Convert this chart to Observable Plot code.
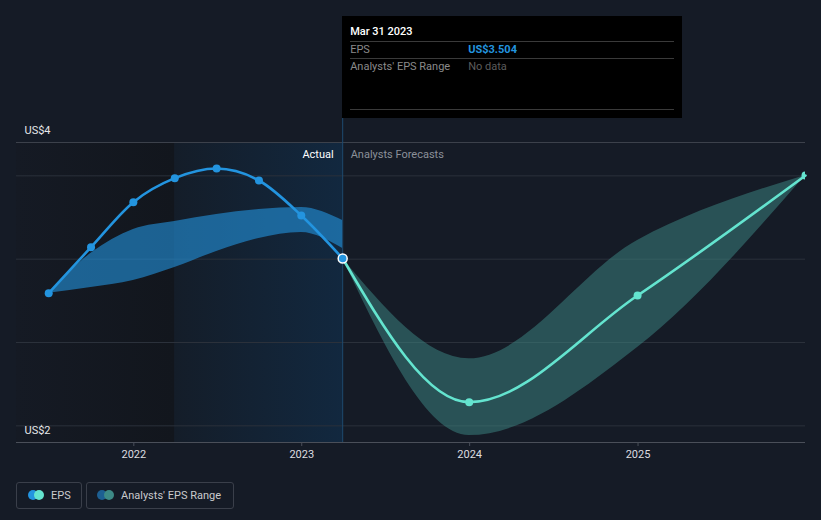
<!DOCTYPE html>
<html><head><meta charset="utf-8">
<script src="https://cdn.jsdelivr.net/npm/d3@7"></script>
<script src="https://cdn.jsdelivr.net/npm/@observablehq/plot@0.6"></script>
<style>
body{margin:0;background:#151b26;font-family:Roboto,sans-serif;}
#wrap{position:relative;width:821px;height:520px;overflow:hidden;}
#tip{position:absolute;background:#000;height:102px;width:340px;}
#tip .t{position:absolute;font-size:11px;white-space:nowrap;}
#tip .ln{position:absolute;left:8px;width:324px;height:1px;background:#3a3a3a;}
.lg{position:absolute;top:482px;height:25px;border:1px solid #3a3f4a;border-radius:3px;box-sizing:content-box;}
.lg .c{position:absolute;top:7px;width:10px;height:10px;border-radius:50%;}
.lg .tx{position:absolute;top:6px;font-size:11px;color:#c9cacd;white-space:nowrap;}
</style></head><body><div id="wrap"></div>
<script>
// ---- data ----
const actualDates = ["2021-06-30","2021-09-30","2021-12-31","2022-03-31","2022-06-30","2022-09-30","2022-12-31","2023-03-31"];
const actualEps   = [3.296, 3.572, 3.842, 3.986, 4.044, 3.972, 3.762, 3.504];
const pastLow     = [3.296, 3.330, 3.372, 3.450, 3.546, 3.624, 3.660, 3.564];
const pastHigh    = [3.296, 3.535, 3.678, 3.726, 3.768, 3.798, 3.810, 3.732];
const forecastDates = ["2023-03-31","2023-12-31","2024-12-31","2025-12-31"];
const forecastEps   = [3.504, 2.642, 3.282, 4.002];
const forecastLow   = [3.504, 2.442, 2.970, 4.002];
const forecastHigh  = [3.504, 2.902, 3.612, 4.002];
const gridValues = [4.0, 3.5, 3.0, 2.5];
const yDomain = [2.4, 4.2];
const yLabels = ["US$2", "US$4"];
const xTickYears = ["2022-01-01","2023-01-01","2024-01-01","2025-01-01"];
const xDomain = ["2021-04-21","2025-12-31"];
const pastYearStart = "2022-03-31";
const todayDate = "2023-03-31";
const tipTitle = "Mar 31 2023";

// ---- build tables ----
const D = s => new Date(s);
const actual = actualDates.map((d,i)=>({date:D(d), eps:actualEps[i], low:pastLow[i], high:pastHigh[i]}));
const forecast = forecastDates.map((d,i)=>({date:D(d), eps:forecastEps[i], low:forecastLow[i], high:forecastHigh[i]}));
const yLab = yDomain.map((v,i)=>({v, label:yLabels[i]}));
const today = D(todayDate);
const blue = "#2394df", teal = "#64e4cf";

const plot = Plot.plot({
  width: 821, height: 470,
  marginTop: 142, marginBottom: 28, marginLeft: 16, marginRight: 16,
  style: {background: "transparent", fontFamily: "Roboto, sans-serif", fontSize: "11px"},
  x: {type: "utc", domain: xDomain.map(D)},
  y: {domain: yDomain, axis: null},
  marks: [
    Plot.rect([{a: D(xDomain[0]), b: D(pastYearStart)}], {x1: "a", x2: "b", fill: "url(#gradL)"}),
    Plot.rect([{a: D(pastYearStart), b: today}], {x1: "a", x2: "b", fill: "url(#gradH)"}),
    Plot.ruleY(gridValues, {stroke: "#2b313b", strokeWidth: 1}),
    Plot.ruleY([yDomain[1]], {stroke: "#3c414b", strokeWidth: 1}),
    Plot.areaY(actual, {x: "date", y1: "low", y2: "high", curve: "monotone-x", fill: blue, fillOpacity: 0.6}),
    Plot.areaY(forecast, {x: "date", y1: "low", y2: "high", curve: "monotone-x", fill: "#3d8a86", fillOpacity: 0.5}),
    Plot.ruleX([today], {stroke: "#1d4a70", strokeWidth: 1, insetTop: -24}),
    Plot.ruleY([yDomain[0]], {stroke: "#4a4f59", strokeWidth: 1}),
    Plot.axisX({ticks: xTickYears.map(D), tickFormat: "%Y", tickSize: 4, tickPadding: 4, stroke: "#4a4f59", fill: "#dcdde0", fontSize: 11}),
    Plot.lineY(actual, {x: "date", y: "eps", curve: "monotone-x", stroke: blue, strokeWidth: 2.6}),
    Plot.lineY(forecast, {x: "date", y: "eps", curve: "monotone-x", stroke: teal, strokeWidth: 2.6}),
    Plot.dot(actual.slice(0, -1), {x: "date", y: "eps", r: 4, fill: blue}),
    Plot.dot(forecast.slice(1), {x: "date", y: "eps", r: 4, fill: teal, clip: "frame"}),
    Plot.dot(actual.slice(-1), {x: "date", y: "eps", r: 4.5, fill: blue, stroke: "#ffffff", strokeWidth: 1.5}),
    Plot.text(["Actual"], {x: () => today, frameAnchor: "top", dy: 8, dx: -9, textAnchor: "end", fill: "#ffffff", fontSize: 11}),
    Plot.text(["Analysts Forecasts"], {x: () => today, frameAnchor: "top", dy: 8, dx: 8, textAnchor: "start", fill: "#8b9099", fontSize: 11}),
    Plot.text(yLab, {y: "v", text: "label", frameAnchor: "left", dx: 8, dy: -12, textAnchor: "start", fill: "#e6e7e9", fontSize: 11})
  ]
});

const ns = "http://www.w3.org/2000/svg";
const defs = document.createElementNS(ns, "defs");
defs.innerHTML = `
<linearGradient id="gradL" x1="0" x2="1" y1="0" y2="0">
  <stop offset="0" stop-color="#151a24"/><stop offset="1" stop-color="#12161d"/>
</linearGradient>
<linearGradient id="gradH" x1="0" x2="1" y1="0" y2="0">
  <stop offset="0" stop-color="#141d29"/><stop offset="1" stop-color="#12283f"/>
</linearGradient>`;
plot.insertBefore(defs, plot.firstChild);

const wrap = document.getElementById("wrap");
plot.style.position = "absolute"; plot.style.left = "0"; plot.style.top = "0";
wrap.appendChild(plot);

// tooltip anchored at today's x position
const tx = plot.scale("x").apply(today);
const tip = document.createElement("div");
tip.id = "tip";
tip.style.left = tx + "px"; tip.style.top = "16px";
const lastEps = actualEps[actualEps.length - 1];
tip.innerHTML = `
<div class="t" style="left:8px;top:9px;color:#fff;font-weight:500;">${tipTitle}</div>
<div class="ln" style="top:25px"></div>
<div class="t" style="left:8px;top:27px;color:#8a8a8a;">EPS</div>
<div class="t" style="left:126px;top:27px;color:${blue};font-weight:700;">US$${lastEps.toFixed(3)}</div>
<div class="ln" style="top:42px"></div>
<div class="t" style="left:8px;top:44px;color:#8a8a8a;">Analysts' EPS Range</div>
<div class="t" style="left:126px;top:44px;color:#5c5c5c;">No data</div>
<div class="ln" style="top:93px"></div>`;
wrap.appendChild(tip);

// legend
const lg = document.createElement("div");
lg.innerHTML = `
<div class="lg" style="left:16px;width:64px;">
  <div class="c" style="left:11px;background:${blue}"></div>
  <div class="c" style="left:17px;background:${teal}"></div>
  <div class="tx" style="left:34px">EPS</div>
</div>
<div class="lg" style="left:86px;width:146px;">
  <div class="c" style="left:10px;background:#1d5f92"></div>
  <div class="c" style="left:17px;background:#3d8a86"></div>
  <div class="tx" style="left:34px">Analysts' EPS Range</div>
</div>`;
wrap.appendChild(lg);
</script>
</body></html>
